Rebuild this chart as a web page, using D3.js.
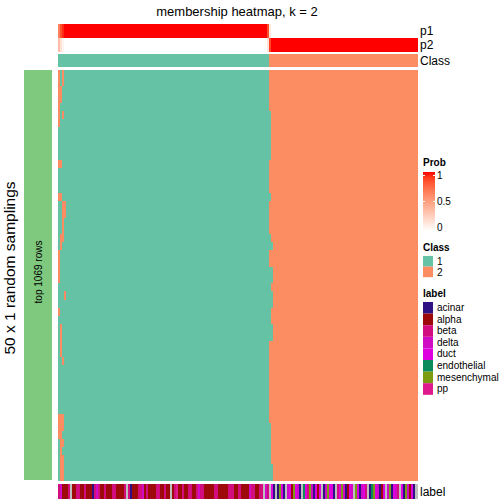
<!DOCTYPE html>
<html>
<head>
<meta charset="utf-8">
<script src="https://cdn.jsdelivr.net/npm/d3@7"></script>
<style>
  html, body { margin: 0; padding: 0; background: #fff; }
  svg { display: block; }
  text { font-family: "Liberation Sans", Arial, Helvetica, sans-serif; fill: #000; }
</style>
</head>
<body>
<svg id="chart" width="504" height="504"></svg>
<script>
// ---------------- data ----------------
const title = "membership heatmap, k = 2";
const nSamplings = 50;
// sample labels (per column), class-1 samples then class-2 samples
// a=alpha b=beta d=delta u=duct c=acinar e=endothelial m=mesenchymal p=pp g=NA
const labelsClass1 = ("bdaaabgaab" + "baabaaacbd" + "baabaaabba" + "aaabgbcaaa" + "bbdabaaaab" +
                      "baabaagabp" + "aabaabbaab" + "dbbaaaaabb" + "aaaaabbbaa" + "bbaaaadbba" + "abbgdb").split("");
const labelsClass2 = ("gucgcmucgd" + "uamudcgeub" + "mdcuaugcdm" + "uucgbumdca" + "udgmucdubg" +
                      "cemudcaugd" + "mcudbgucmd" + "aucg").split("");
const labelCodes = ["c", "a", "b", "d", "u", "e", "m", "p"];
const labelNames = ["acinar", "alpha", "beta", "delta", "duct", "endothelial", "mesenchymal", "pp"];
const labelColors = ["#2E1283", "#9E0A0A", "#D20E7E", "#CF0CC4", "#DE00DE", "#0B8A5C", "#7A9B12", "#DE1A8C"];
const naColor = "#BEBEBE";
// p1 overrides (column index, probability of class 1); others are 1 for class 1, 0 for class 2
const p1Overrides = [[0, 0.65], [1, 0.85], [2, 0.95], [105, 0.85], [106, 0.12]];
// per sampling row: first column assigned to class 2
const rowBoundary = [106,106,106,106,106, 107,107,107,107,107, 107,106,106,106,106, 107,106,106,106,106,
                     107,108,106,106,108, 108,107,108,108,107, 107,108,108,106,106, 106,106,106,106,106,
                     106,106,106,107,107, 107,107,107,108,108];
// per sampling row: class-1 columns flipped to class 2 [row, colStart, colEnd]
const leftFlips = [[0,0,0],[1,0,0],[2,0,0],[3,0,0],[4,0,0],[5,0,0],[6,0,0],
                   [0,2,2],[1,2,2],[2,1,1],[3,1,1],[5,2,2],[11,0,1],[15,0,1],[16,2,3],[17,2,3],
                   [18,2,2],[19,2,2],[20,1,2],[21,1,1],[22,0,0],[23,0,0],[24,0,0],[25,0,0],
                   [27,3,3],[29,0,0],[31,1,1],[32,1,1],[33,1,1],[34,1,1],[35,2,2],
                   [42,0,2],[43,0,2],[44,0,1],[45,1,2],[46,1,1],[47,1,2],[48,1,2],[49,1,2]];
const classNames = ["1", "2"];
const classColors = ["#66C2A5", "#FC8D62"];
const probTicks = [0, 0.5, 1];
const leftTitle = "50 x 1 random samplings";
const innerTitle = "top 1069 rows";

// ---------------- drawing ----------------
const svg = d3.select("#chart");
const labels = labelsClass1.concat(labelsClass2);
const N = labels.length;
const split = labelsClass1.length;
const colClass = d3.range(N).map(i => i < split ? 0 : 1);
const p1 = colClass.map(c => c === 0 ? 1 : 0);
p1Overrides.forEach(([i, v]) => { p1[i] = v; });

const x = d3.scaleLinear().domain([0, N]).range([58, 417]);
const y = d3.scaleBand().domain(d3.range(nSamplings)).range([70, 480]);
const probColor = d3.scaleLinear().domain([0, 1]).range(["#FFFFFF", "#FF0000"]).interpolate(d3.interpolateLab);
const labelColor = code => { const k = labelCodes.indexOf(code); return k < 0 ? naColor : labelColors[k]; };

const cw = i => x(i + 1) - x(i);

// title
svg.append("text").attr("x", 237).attr("y", 16).attr("text-anchor", "middle")
  .style("font-size", "13px").text(title);

// top annotations
const topG = svg.append("g").attr("shape-rendering", "crispEdges");
topG.selectAll(".p1").data(d3.range(N)).join("rect")
  .attr("x", i => x(i)).attr("y", 24).attr("width", i => cw(i) + 0.5).attr("height", 14)
  .attr("fill", i => probColor(p1[i]));
topG.selectAll(".p2").data(d3.range(N)).join("rect")
  .attr("x", i => x(i)).attr("y", 38).attr("width", i => cw(i) + 0.5).attr("height", 14)
  .attr("fill", i => probColor(1 - p1[i]));
topG.selectAll(".cls").data(d3.range(N)).join("rect")
  .attr("x", i => x(i)).attr("y", 54).attr("width", i => cw(i) + 0.5).attr("height", 13)
  .attr("fill", i => classColors[colClass[i]]);

svg.append("text").attr("x", 420).attr("y", 35).style("font-size", "12px").text("p1");
svg.append("text").attr("x", 420).attr("y", 49).style("font-size", "12px").text("p2");
svg.append("text").attr("x", 420).attr("y", 65).style("font-size", "12px").text("Class");

// heatmap cells
const cells = [];
for (let r = 0; r < nSamplings; r++) {
  for (let c = 0; c < N; c++) {
    let k = c < rowBoundary[r] ? 0 : 1;
    leftFlips.forEach(([rr, c0, c1]) => { if (rr === r && c >= c0 && c <= c1) k = 1; });
    cells.push({ r, c, k });
  }
}
svg.append("g").attr("shape-rendering", "crispEdges")
  .selectAll("rect").data(cells).join("rect")
  .attr("x", d => x(d.c)).attr("y", d => y(d.r))
  .attr("width", d => cw(d.c) + 0.5).attr("height", y.bandwidth() + 0.5)
  .attr("fill", d => classColors[d.k]);

// left row-group bar
svg.append("rect").attr("x", 24).attr("y", 70).attr("width", 28).attr("height", 410)
  .attr("fill", "#7FC97F");
svg.append("text").attr("transform", "translate(42,272) rotate(-90)").attr("text-anchor", "middle")
  .style("font-size", "10px").text(innerTitle);
svg.append("text").attr("transform", "translate(15,268) rotate(-90)").attr("text-anchor", "middle")
  .style("font-size", "15.5px").text(leftTitle);

// bottom label annotation
svg.append("g").attr("shape-rendering", "crispEdges")
  .selectAll("rect").data(d3.range(N)).join("rect")
  .attr("x", i => x(i)).attr("y", 484).attr("width", i => cw(i) + 0.5).attr("height", 15)
  .attr("fill", i => labelColor(labels[i]));
svg.append("text").attr("x", 420).attr("y", 496).style("font-size", "12px").text("label");

// legends
const lx = 423;
// Prob
svg.append("text").attr("x", lx).attr("y", 166).style("font-size", "10px").style("font-weight", "bold").text("Prob");
const defs = svg.append("defs");
const grad = defs.append("linearGradient").attr("id", "probGrad").attr("x1", 0).attr("y1", 1).attr("x2", 0).attr("y2", 0);
d3.range(0, 1.0001, 0.1).forEach(t => grad.append("stop").attr("offset", t).attr("stop-color", probColor(t)));
const gy = d3.scaleLinear().domain([0, 1]).range([231, 172]);
const py = d3.scaleLinear().domain([0, 1]).range([227.5, 175.5]);
svg.append("rect").attr("x", lx).attr("y", gy(1)).attr("width", 12).attr("height", gy(0) - gy(1))
  .attr("fill", "url(#probGrad)");
probTicks.forEach(t => {
  if (t > 0) {
    svg.append("line").attr("x1", lx).attr("x2", lx + 2).attr("y1", py(t)).attr("y2", py(t)).attr("stroke", "#fff");
    svg.append("line").attr("x1", lx + 10).attr("x2", lx + 12).attr("y1", py(t)).attr("y2", py(t)).attr("stroke", "#fff");
  }
  svg.append("text").attr("x", lx + 14).attr("y", py(t) + 3.5).style("font-size", "10px").text(t);
});
// Class
svg.append("text").attr("x", lx).attr("y", 251).style("font-size", "10px").style("font-weight", "bold").text("Class");
classNames.forEach((n, i) => {
  svg.append("rect").attr("x", lx).attr("y", 256 + i * 10.6).attr("width", 10).attr("height", 10.6).attr("fill", classColors[i]);
  svg.append("text").attr("x", lx + 14).attr("y", 265 + i * 10.6).style("font-size", "10px").text(n);
});
// label
svg.append("text").attr("x", lx).attr("y", 297).style("font-size", "10px").style("font-weight", "bold").text("label");
labelNames.forEach((n, i) => {
  svg.append("rect").attr("x", lx).attr("y", 302 + i * 11.6).attr("width", 10).attr("height", 11.6).attr("fill", labelColors[i]);
  svg.append("text").attr("x", lx + 14).attr("y", 311 + i * 11.6).style("font-size", "10px").text(n);
});
</script>
</body>
</html>
